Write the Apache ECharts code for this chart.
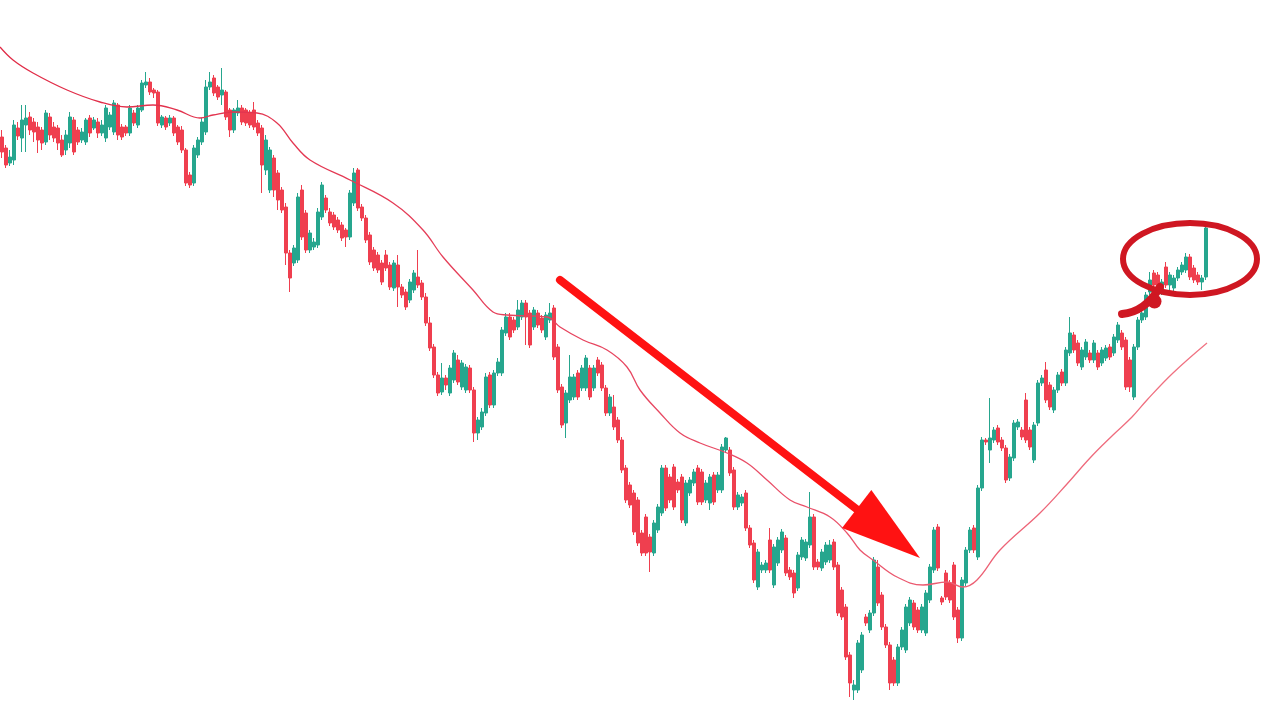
<!DOCTYPE html>
<html>
<head>
<meta charset="utf-8">
<style>
  html, body { margin: 0; padding: 0; background: #ffffff; }
  #chart { width: 1281px; height: 718px; }
</style>
<script src="https://cdn.jsdelivr.net/npm/echarts@6/dist/echarts.min.js"></script>
</head>
<body>
<div id="chart"></div>
<script>
// Candles: [open, close, low, high] in price units
const ohlc = [
[583,568,562,590],[572,555,552,575],[557,563,554,570],[560,595,555,600],[592,584,580,598],
[582,600,568,615],[595,602,568,615],[603,590,585,608],[598,588,578,602],[593,580,567,598],
[590,577,570,593],[578,607,575,610],[603,585,580,607],[593,582,578,598],[592,577,570,595],
[580,565,563,585],[570,585,565,590],[577,603,572,608],[600,568,565,603],[590,578,575,593],
[580,588,577,592],[578,600,575,602],[602,587,583,605],[592,600,590,603],[598,587,582,602],
[587,595,584,600],[582,612,578,615],[593,605,590,608],[588,617,585,620],[615,585,580,617],
[593,583,580,596],[593,587,584,595],[587,612,584,615],[607,597,594,610],[595,612,592,615],
[610,637,608,640],[635,638,632,648],[638,628,625,642],[630,627,622,632],[628,597,594,630],
[595,603,592,605],[602,593,590,604],[597,602,594,605],[602,587,584,604],[593,578,575,595],
[590,570,567,594],[570,537,534,572],[545,535,532,548],[537,572,534,575],[565,580,562,583],
[578,598,575,602],[588,633,585,640],[633,638,630,648],[642,627,624,645],[633,623,620,635],
[625,630,615,652],[628,603,600,630],[610,590,583,612],[590,610,587,612],[607,612,604,620],
[612,598,595,615],[610,597,594,612],[607,595,592,610],[610,593,590,618],[597,587,584,600],
[592,555,527,595],[550,580,545,585],[530,570,527,573],[562,530,523,565],[547,520,510,550],
[530,510,507,533],[513,467,455,517],[467,442,428,470],[457,472,454,475],[460,523,457,527],
[530,483,480,535],[507,470,467,510],[470,487,467,490],[473,478,470,482],[475,508,472,512],
[503,535,500,538],[522,510,507,525],[508,497,494,512],[505,493,490,508],[500,490,487,503],
[495,482,479,498],[490,483,473,492],[483,527,480,530],[517,547,514,552],[550,512,509,552],
[513,502,499,516],[502,480,477,505],[485,458,455,488],[470,452,449,473],[465,450,447,468],
[457,438,435,460],[465,452,449,470],[455,433,430,458],[432,457,429,460],[455,433,413,465],
[433,425,422,436],[428,413,410,431],[420,438,417,441],[430,447,427,450],[443,435,432,470],
[437,423,420,440],[423,397,394,427],[397,372,369,403],[373,345,342,376],[345,327,324,348],
[328,342,325,357],[342,335,330,345],[327,352,324,355],[340,367,337,370],[360,338,335,365],
[333,357,330,360],[330,353,327,356],[352,330,327,355],[330,287,278,333],[287,300,280,303],
[293,308,290,312],[307,343,304,347],[345,315,312,348],[315,347,312,350],[347,358,344,362],
[347,390,344,393],[387,403,384,407],[403,383,380,407],[400,390,387,403],[393,410,390,420],
[403,417,400,420],[417,403,375,420],[407,375,372,410],[393,410,390,413],[407,395,392,410],
[402,390,387,405],[383,405,380,408],[400,407,397,417],[412,363,360,415],[373,330,327,376],
[333,295,292,336],[297,327,282,330],[320,343,317,365],[323,343,320,346],[347,323,320,350],
[332,352,329,355],[332,362,329,365],[352,323,320,355],[332,352,329,355],[360,347,344,363],
[355,332,329,358],[332,307,304,335],[307,323,304,326],[313,293,290,325],[300,280,277,303],
[280,250,247,283],[252,220,217,255],[235,215,212,238],[227,188,185,230],[220,177,174,223],
[187,167,164,190],[203,167,164,206],[183,168,148,186],[167,197,164,200],[190,213,187,216],
[207,252,204,255],[252,212,209,255],[243,220,217,246],[253,213,210,256],[238,230,227,241],
[243,200,197,246],[197,237,194,240],[227,240,224,243],[237,248,234,251],[252,218,215,255],
[248,218,215,251],[220,237,217,240],[217,243,210,246],[245,218,215,248],[230,245,227,248],
[230,273,227,276],[270,282,267,283],[270,247,244,273],[250,213,210,253],[213,225,210,228],
[217,223,214,226],[227,192,189,230],[192,175,172,195],[177,140,137,180],[133,168,130,171],
[150,155,147,158],[150,157,147,160],[180,150,147,192],[135,173,132,176],[157,180,154,183],
[170,188,167,191],[182,147,144,185],[150,143,140,153],[147,127,122,150],[132,165,129,168],
[163,180,160,183],[162,178,159,181],[175,203,172,228],[203,153,150,206],[158,153,150,161],
[152,168,149,171],[158,175,155,178],[160,175,157,180],[178,153,150,181],[155,107,104,158],
[130,103,100,133],[113,63,60,116],[65,37,23,68],[30,35,20,40],[30,77,27,80],
[50,85,47,88],[103,97,94,106],[90,107,87,110],[107,160,104,163],[153,117,114,160],
[125,93,90,128],[93,75,72,96],[75,37,30,78],[60,37,34,63],[37,73,34,76],
[73,90,70,93],[70,113,67,116],[97,120,94,123],[117,93,90,120],[110,90,87,113],
[90,113,87,116],[87,127,84,130],[120,153,117,156],[150,190,147,193],[193,152,149,196],
[122,118,115,124],[147,123,120,150],[137,120,117,140],[155,103,100,158],[110,82,77,113],
[82,140,79,143],[137,170,134,173],[170,190,167,193],[192,170,167,195],[163,232,160,235],
[232,280,229,283],[280,278,275,282],[270,282,257,322],[280,290,277,293],[292,278,275,295],
[280,272,269,283],[272,240,237,275],[242,263,239,266],[262,297,259,300],[293,298,290,301],
[290,283,280,293],[320,280,277,327],[290,273,270,293],[260,295,257,298],[297,337,294,340],
[337,342,334,345],[350,320,317,358],[335,313,310,338],[310,330,307,333],[330,345,327,348],
[348,337,334,351],[337,370,334,373],[367,387,364,403],[385,370,367,388],[377,357,354,380],
[353,370,350,373],[363,378,360,381],[367,360,357,370],[360,377,357,380],[367,353,350,370],
[357,370,354,373],[362,372,359,375],[373,363,360,376],[367,383,364,386],[380,395,377,398],
[387,373,370,390],[380,333,330,383],[360,333,328,363],[323,373,320,376],[373,400,370,403],
[400,407,397,410],[403,425,400,428],[428,440,425,448],[447,435,430,450],[445,430,427,448],
[430,438,425,441],[453,435,432,458],[435,445,430,448],[432,442,429,445],[442,450,439,453],
[448,455,445,458],[450,463,447,467],[463,443,440,466],[452,440,437,455],[445,438,435,448],
[438,442,430,445],[443,492,440,495]
];

// Session labels (one per candle)
const sessions = ohlc.map((_, i) => 'S' + (i + 1));

// Moving average read at points along the curve: [session index, price]
const maPoints = [
[-0.5,673],[2.75,660],[7.75,647],[16.25,630],[24.5,618],[31.25,613],[37.75,615],[43.75,610],
[49.5,602],[52.75,605],[57.75,608],[63.75,607],[68.75,597],[72.75,577],[77,560],[87,540],
[97.75,517],[105.25,490],[110.25,463],[117.75,430],[122.75,408],[126.25,405],[136.25,403],
[139.5,393],[145.25,380],[151.25,370],[156.25,353],[159.5,330],[164.5,307],[169.5,287],
[174.5,277],[181.25,267],[186.25,257],[191.25,240],[197,220],[201.25,213],[207,203],
[211.25,187],[214.5,170],[217.75,160],[223.75,143],[230.25,135],[236.25,138],[240.25,133],
[243.75,140],[249.5,170],[259.5,207],[266.25,236],[272,262],[277.75,285],[282.5,303],
[286.25,320],[292.75,347],[301.25,377]
];

// Annotations in data units: [session index, price]
const arrowLine = [[139.5, 440], [229.5, 162]];          // tail, tip
const ringBox = [[280.25, 497], [313.75, 425]];           // left-top, right-bottom
const ringTail = [[280, 406], [285.75, 408], [289.5, 433]]; // start, control, end

const UP = '#26a68e', DOWN = '#ef3f4f';

const chart = echarts.init(document.getElementById('chart'), null, { renderer: 'canvas' });
chart.setOption({
  animation: false,
  backgroundColor: '#ffffff',
  grid: { left: 0, top: 0, width: 1208, height: 718, containLabel: false },
  xAxis: [
    { type: 'category', data: sessions, boundaryGap: true, show: false },
    { type: 'value', min: -0.5, max: ohlc.length - 0.5, show: false }
  ],
  yAxis: [{ type: 'value', min: 2, max: 720, show: false, splitLine: { show: false } }],
  series: [
    {
      type: 'candlestick',
      xAxisIndex: 0,
      data: ohlc,
      barWidth: 3,
      itemStyle: { color: UP, color0: DOWN, borderColor: UP, borderColor0: DOWN, borderWidth: 1 }
    },
    {
      type: 'line',
      xAxisIndex: 1,
      data: maPoints,
      smooth: 0.4,
      showSymbol: false,
      symbol: 'none',
      lineStyle: {
        width: 1.3,
        color: new echarts.graphic.LinearGradient(0, 0, 1, 0, [
          { offset: 0, color: '#e02a45' },
          { offset: 0.6, color: '#e84a64' },
          { offset: 1, color: '#f07483' }
        ])
      },
      z: 3
    },
    {
      type: 'custom',
      xAxisIndex: 1,
      clip: false,
      silent: true,
      z: 5,
      data: [[0, 0]],
      renderItem: function (params, api) {
        const a = api.coord(arrowLine[0]);
        const b = api.coord(arrowLine[1]);
        const dx = b[0] - a[0], dy = b[1] - a[1];
        const len = Math.hypot(dx, dy);
        const ux = dx / len, uy = dy / len;
        const nx = -uy, ny = ux;
        const headLen = 80, headHalf = 24;
        const base = [b[0] - ux * headLen, b[1] - uy * headLen];
        const p1 = api.coord(ringBox[0]);
        const p2 = api.coord(ringBox[1]);
        const t0 = api.coord(ringTail[0]), tc = api.coord(ringTail[1]), t1 = api.coord(ringTail[2]);
        const red = '#ff1212';
        const ringRed = '#cf1722';
        return {
          type: 'group',
          children: [
            {
              type: 'line',
              shape: { x1: a[0], y1: a[1], x2: base[0] + ux * 4, y2: base[1] + uy * 4 },
              style: { stroke: red, lineWidth: 8, lineCap: 'round' }
            },
            {
              type: 'polygon',
              shape: { points: [
                [b[0], b[1]],
                [base[0] + nx * headHalf, base[1] + ny * headHalf],
                [base[0] - nx * headHalf, base[1] - ny * headHalf]
              ] },
              style: { fill: red }
            },
            {
              type: 'ellipse',
              shape: { cx: (p1[0] + p2[0]) / 2, cy: (p1[1] + p2[1]) / 2,
                       rx: Math.abs(p2[0] - p1[0]) / 2, ry: Math.abs(p2[1] - p1[1]) / 2 },
              style: { fill: 'none', stroke: ringRed, lineWidth: 6 }
            },
            {
              type: 'bezierCurve',
              shape: { x1: t0[0], y1: t0[1], cpx1: tc[0], cpy1: tc[1], x2: t1[0], y2: t1[1] },
              style: { fill: 'none', stroke: ringRed, lineWidth: 8, lineCap: 'round' }
            },
            {
              type: 'circle',
              shape: { cx: (tc[0] + t1[0]) / 2 + 2, cy: (tc[1] + t1[1]) / 2 + 2, r: 7 },
              style: { fill: ringRed }
            }
          ]
        };
      }
    }
  ]
});
</script>
</body>
</html>
